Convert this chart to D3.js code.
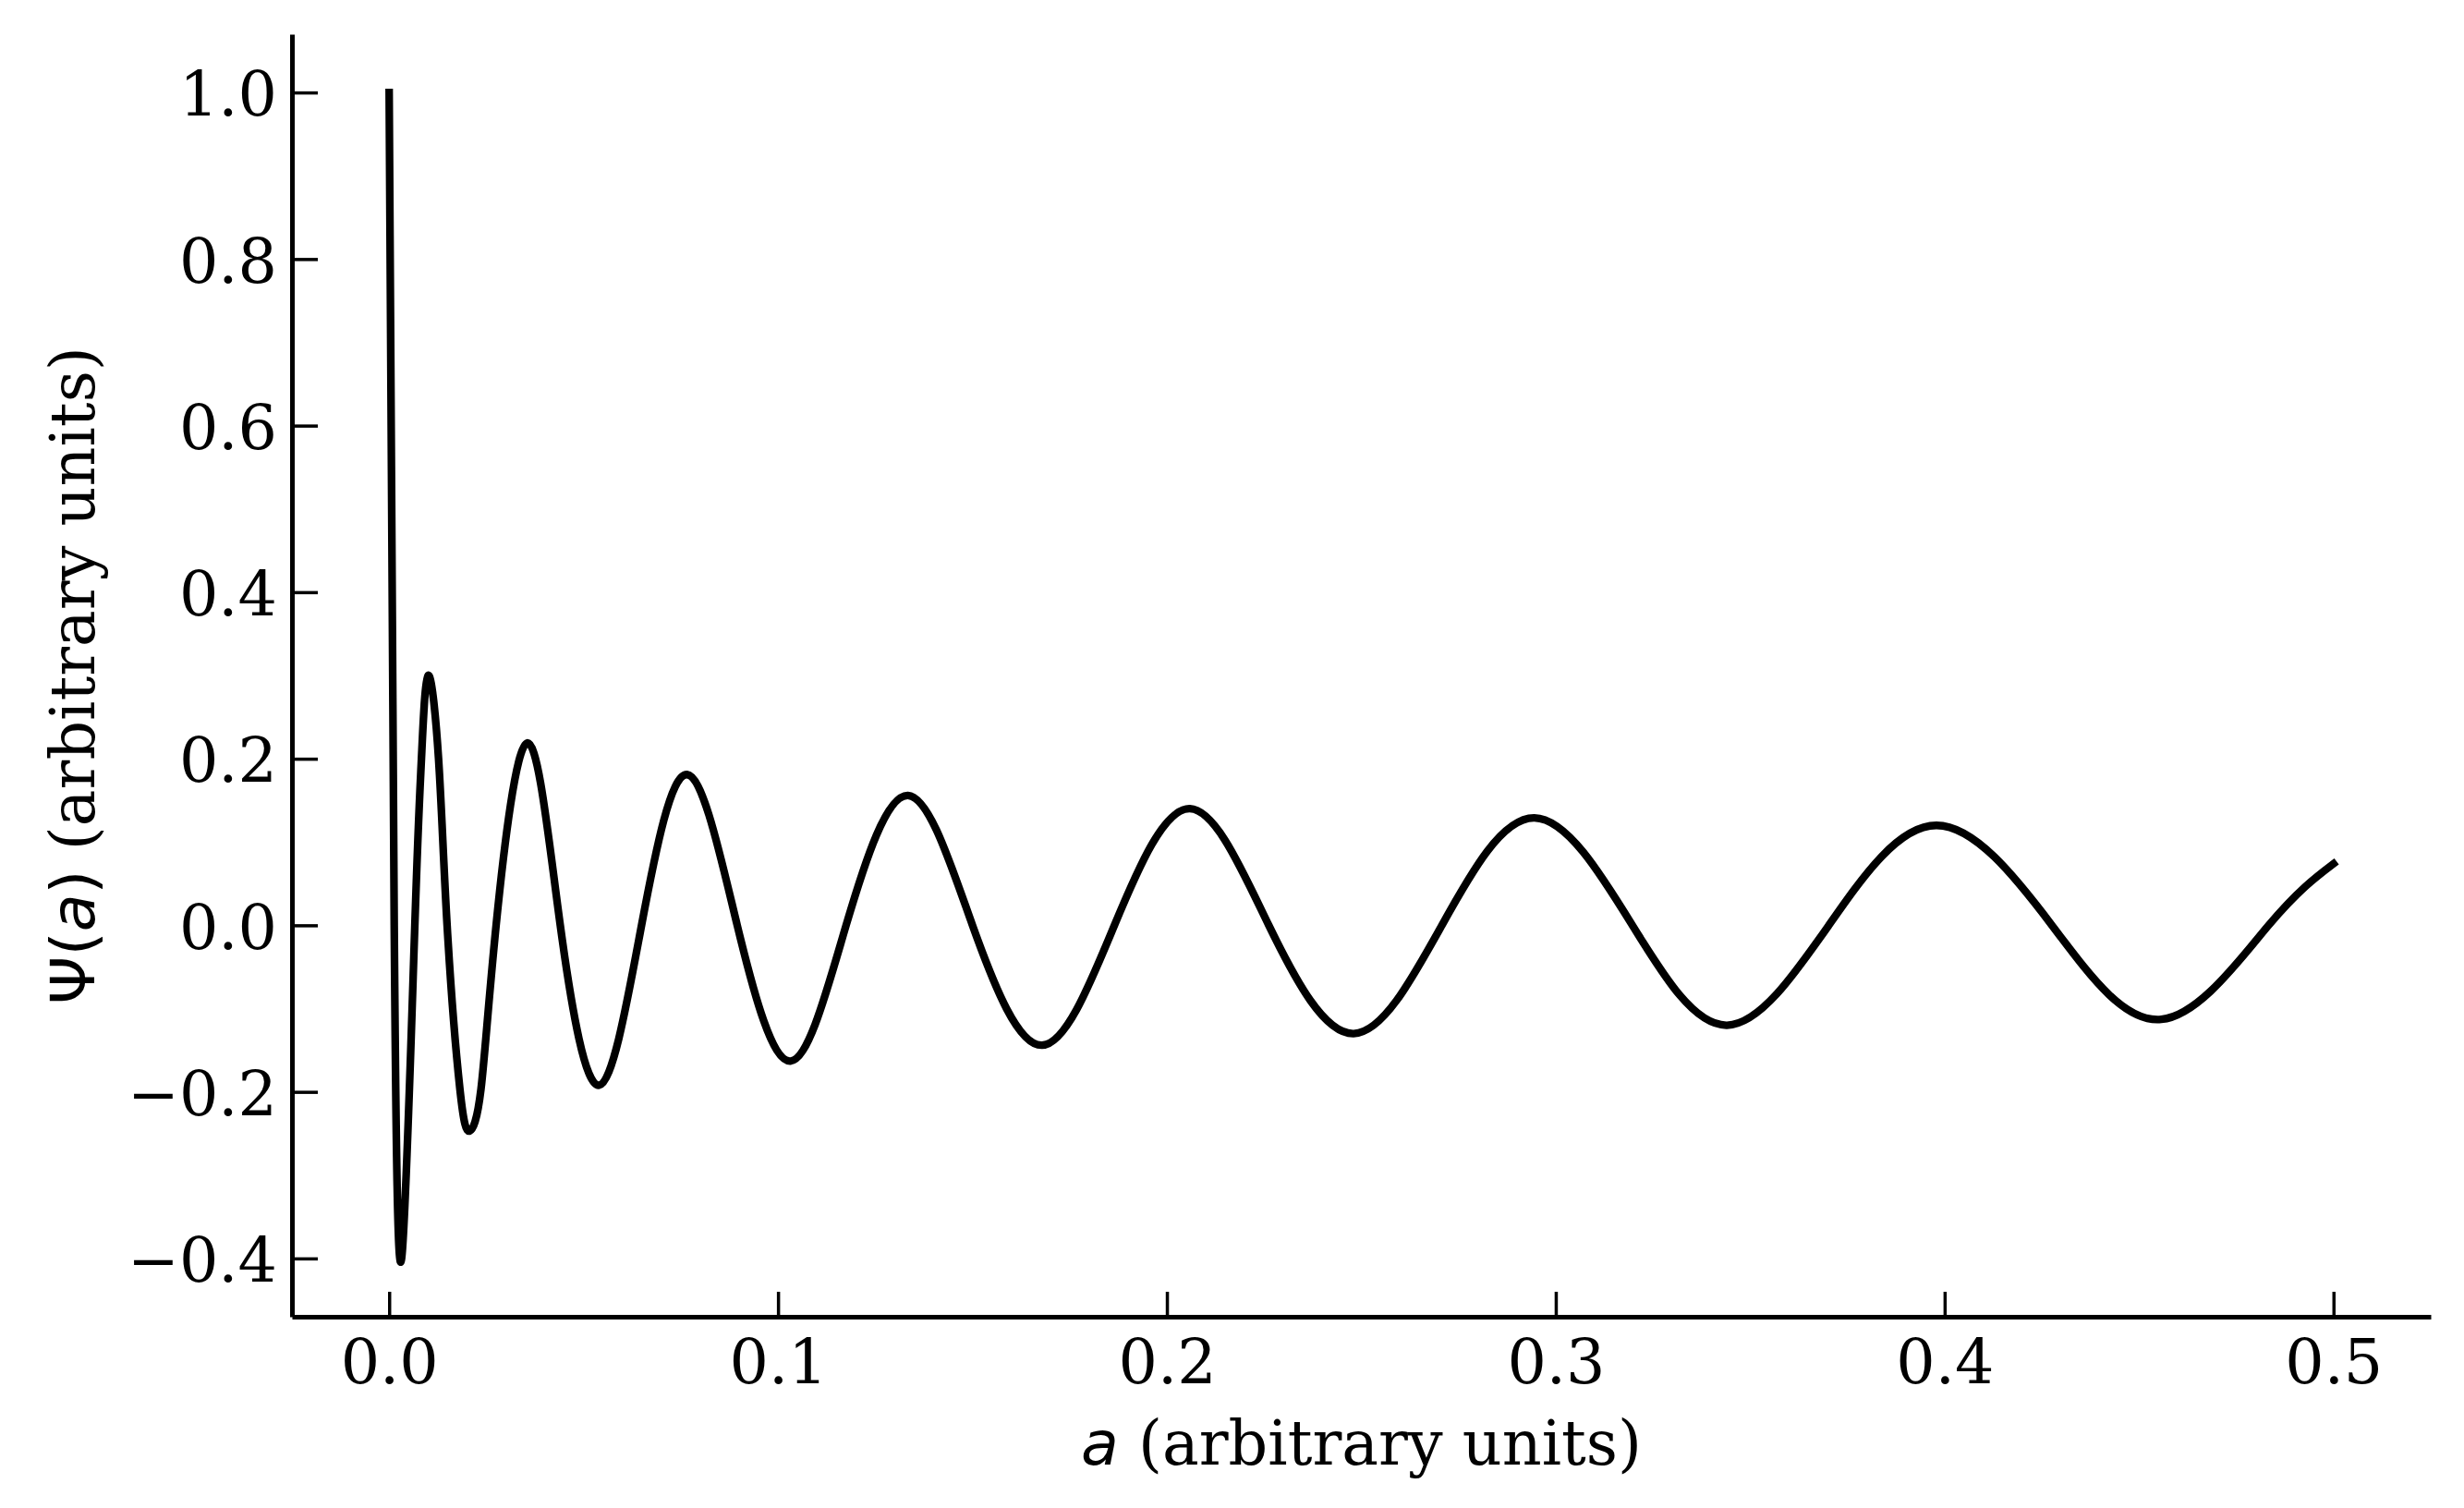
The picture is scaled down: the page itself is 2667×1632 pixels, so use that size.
<!DOCTYPE html>
<html lang="en">
<head>
    <meta charset="UTF-8">
    <script src="https://d3js.org/d3.v7.min.js"></script>
    <title>Psi(a)</title>
    <style>
        body { margin: 0; background: white; }
        text { font-family: 'DejaVu Serif', serif; fill: black; }
        text.label { font-size: 66.7px; }
        .math { font-family: 'DejaVu Sans', sans-serif; }
    </style>
</head>
<body>
<svg height="1632" width="2667"></svg>
<script>
    // values (peaks, troughs and zero crossings)
    const aVals = [0.0000, 0.0013, 0.0032, 0.0066, 0.0083, 0.0100, 0.0127, 0.0149, 0.0182,
        0.0207, 0.0236, 0.0275, 0.0355, 0.0440, 0.0540, 0.0649, 0.0766, 0.0895, 0.1032,
        0.1175, 0.1334, 0.1500, 0.1679, 0.1865, 0.2059, 0.2262, 0.2480, 0.2707, 0.2945,
        0.3197, 0.3440, 0.3702, 0.3979, 0.4276, 0.4557, 0.4833, 0.5000];
    const psiVals = [1.000, 0.000, -0.400, 0.000, 0.200, 0.300, 0.200, 0.000, -0.197,
        -0.247, -0.197, 0.000, 0.219, 0.000, -0.192, 0.000, 0.181, 0.000, -0.163,
        0.000, 0.156, 0.000, -0.144, 0.000, 0.140, 0.000, -0.130, 0.000, 0.129,
        0.000, -0.120, 0.000, 0.120, 0.000, -0.113, 0.000, 0.074];
    const xTicks = [0.0, 0.1, 0.2, 0.3, 0.4, 0.5];
    const yTicks = [-0.4, -0.2, 0.0, 0.2, 0.4, 0.6, 0.8, 1.0];

    const plotL = 316, plotR = 2631, plotT = 37, plotB = 1425;
    const svg = d3.select("svg");

    // matplotlib-like 5% margins around the data
    function pad(ext) {
        const m = (ext[1] - ext[0]) * 0.05;
        return [ext[0] - m, ext[1] + m];
    }
    const x = d3.scaleLinear().domain(pad(d3.extent(aVals))).range([plotL, plotR]);
    const y = d3.scaleLinear().domain(pad(d3.extent(psiVals))).range([plotB, plotT]);

    const fmt = d => d3.format(".1f")(d).replace("-", "\u2212");

    const xAxis = d3.axisBottom(x).tickValues(xTicks).tickSizeInner(-27).tickSizeOuter(0).tickFormat(fmt);
    const yAxis = d3.axisLeft(y).tickValues(yTicks).tickSizeInner(-28).tickSizeOuter(0).tickFormat(fmt);

    const gx = svg.append("g").attr("transform", `translate(0,${plotB})`).call(xAxis);
    const gy = svg.append("g").attr("transform", `translate(${plotL},0)`).call(yAxis);

    [gx, gy].forEach(g => {
        g.select(".domain").attr("stroke", "black").attr("stroke-width", 5);
        g.selectAll(".tick line").attr("stroke", "black").attr("stroke-width", 3.5);
        g.selectAll(".tick text").attr("fill", "black")
            .style("font-family", "'DejaVu Serif', serif").style("font-size", "66.7px");
    });
    gx.selectAll(".tick text").attr("y", 72).attr("dy", null);
    gy.selectAll(".tick text").attr("x", -16).attr("dy", "0.37em");

    // the curve
    const pts = aVals.map((a, i) => [a, psiVals[i]]);
    const line = d3.line().x(d => x(d[0])).y(d => y(d[1])).curve(d3.curveNatural);
    svg.append("path").datum(pts)
        .attr("d", line)
        .attr("fill", "none")
        .attr("stroke", "black")
        .attr("stroke-width", 8.3)
        .attr("stroke-linecap", "square")
        .attr("stroke-linejoin", "round");

    // axis labels
    const xl = svg.append("text").attr("class", "label")
        .attr("x", (plotL + plotR) / 2).attr("y", 1585)
        .attr("text-anchor", "middle");
    xl.append("tspan").attr("class", "math").style("font-style", "italic").text("a");
    xl.append("tspan").text(" (arbitrary units)");

    const yl = svg.append("text").attr("class", "label")
        .attr("transform", `translate(102,${(plotT + plotB) / 2}) rotate(-90)`)
        .attr("text-anchor", "middle");
    yl.append("tspan").attr("class", "math").text("\u03A8(");
    yl.append("tspan").attr("class", "math").style("font-style", "italic").text("a");
    yl.append("tspan").attr("class", "math").text(")");
    yl.append("tspan").text(" (arbitrary units)");
</script>
</body>
</html>
